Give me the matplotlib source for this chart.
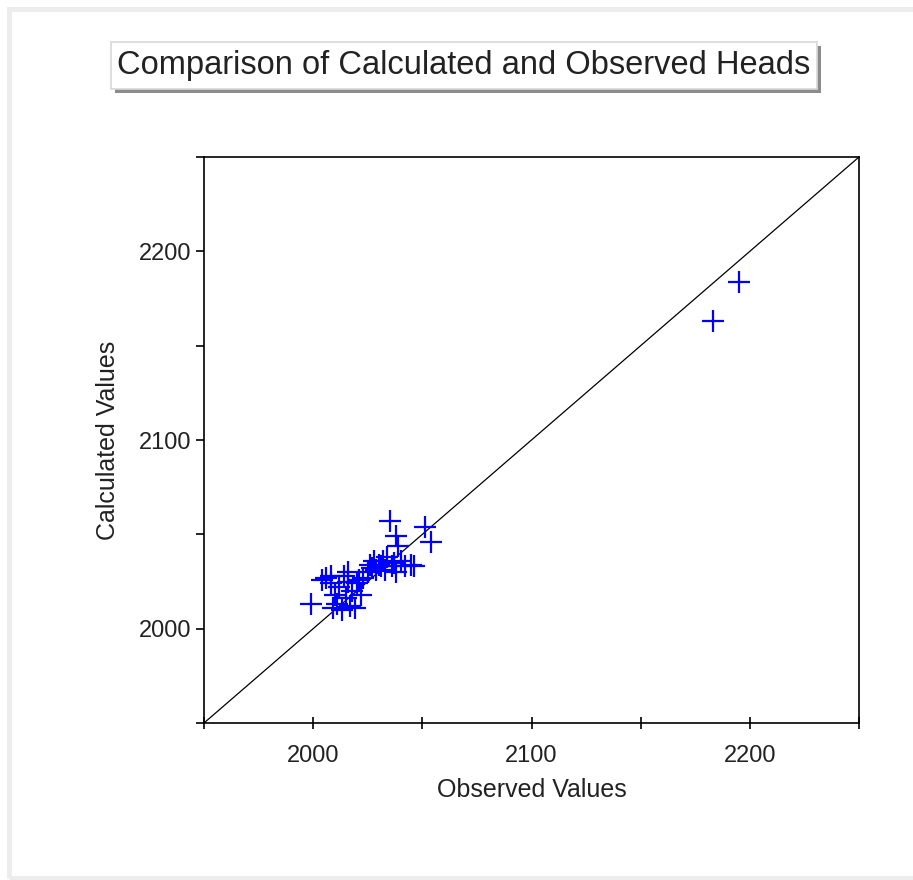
import matplotlib
matplotlib.use("Agg")
import matplotlib.pyplot as plt
from matplotlib.patches import Rectangle

observed = [1999, 2004, 2006, 2008, 2010, 2011, 2012, 2014, 2015, 2016, 2017, 2018,
            2019, 2020, 2021, 2022, 2023, 2025, 2026, 2027, 2028, 2029, 2030, 2031,
            2032, 2033, 2034, 2035, 2036, 2037, 2038, 2038, 2039, 2040, 2042, 2045,
            2046, 2051, 2054, 2013, 2009, 2016, 2008, 2183, 2195]
calculated = [2013, 2026, 2027, 2024, 2018, 2013, 2022, 2028, 2016, 2025, 2012, 2020,
              2011, 2024, 2026, 2018, 2027, 2030, 2034, 2032, 2036, 2031, 2034, 2033,
              2036, 2031, 2038, 2057, 2033, 2035, 2049, 2030, 2044, 2036, 2033, 2034,
              2033, 2054, 2046, 2010, 2011, 2030, 2028, 2163, 2184]
axis_range = [1950, 2250]
major_ticks = [2000, 2100, 2200]
minor_ticks = [1950, 2050, 2150, 2250]
title = "Comparison of Calculated and Observed Heads"

W, H = 913, 880
fig = plt.figure(figsize=(W / 100, H / 100), dpi=100)
fig.patch.set_facecolor("white")
plt.rcParams['font.family'] = ['Liberation Sans', 'DejaVu Sans']

# outer light gray frame (left, top, bottom)
fig.add_artist(Rectangle((9 / W, 1 - 878 / H), (W + 20) / W, (878 - 9) / H,
                         transform=fig.transFigure, fill=False,
                         edgecolor="#ececec", linewidth=3.5))

ax = fig.add_axes([204 / W, 1 - 723 / H, (859 - 204) / W, (723 - 157) / H])
ax.plot(axis_range, axis_range, color="black", linewidth=0.9, zorder=1)
ax.plot(observed, calculated, linestyle="none", marker="+", markersize=16,
        markeredgewidth=1.6, color="#0000ff", zorder=2)
ax.set_xlim(axis_range)
ax.set_ylim(axis_range)
ax.set_xticks(major_ticks)
ax.set_yticks(major_ticks)
ax.set_xticks(minor_ticks, minor=True)
ax.set_yticks(minor_ticks, minor=True)
ax.tick_params(axis="x", which="both", direction="inout", length=9, width=1.2,
               labelsize=17, pad=11, colors="black", labelcolor="#222222")
ax.tick_params(axis="y", which="both", direction="out", length=6, width=1.2,
               labelsize=17, pad=3, colors="black", labelcolor="#222222")
for s in ax.spines.values():
    s.set_linewidth(1.2)
ax.set_xlabel("Observed Values", fontsize=18, labelpad=8, color="#222222")
ax.set_ylabel("Calculated Values", fontsize=18, labelpad=14, color="#222222")

# title box with shadow
bx0, by0, bx1, by1 = 111, 42, 817, 89
fig.add_artist(Rectangle(((bx0 + 4) / W, 1 - (by1 + 4) / H), (bx1 - bx0) / W, (by1 - by0) / H,
                         transform=fig.transFigure, facecolor="#8c8c8c", edgecolor="none"))
fig.add_artist(Rectangle((bx0 / W, 1 - by1 / H), (bx1 - bx0) / W, (by1 - by0) / H,
                         transform=fig.transFigure, facecolor="white",
                         edgecolor="#d8d8d8", linewidth=1.2))
fig.text((bx0 + bx1) / 2 / W, 1 - (by0 + by1) / 2 / H, title, fontsize=23.5,
         ha="center", va="center", color="#222222")

fig.savefig("out.png", dpi=100)
